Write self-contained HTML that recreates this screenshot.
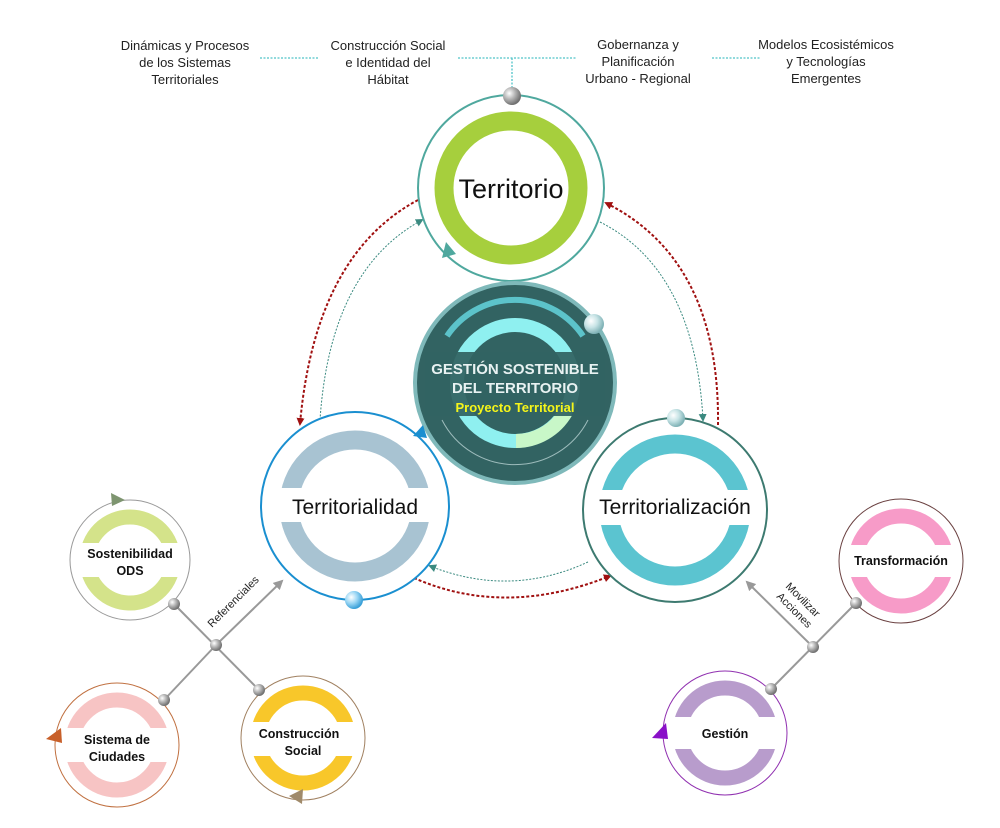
<!DOCTYPE html>
<html><head><meta charset="utf-8"><style>
html,body{margin:0;padding:0;background:#fff;}
svg{display:block;font-family:"Liberation Sans",sans-serif;}
</style></head><body>
<svg width="1000" height="828" viewBox="0 0 1000 828" xmlns="http://www.w3.org/2000/svg">
<defs>
<radialGradient id="ball" cx="35%" cy="35%" r="65%"><stop offset="0" stop-color="#fff"/><stop offset="0.5" stop-color="#b5b5b5"/><stop offset="1" stop-color="#707070"/></radialGradient>
<radialGradient id="ballb" cx="35%" cy="35%" r="65%"><stop offset="0" stop-color="#fff"/><stop offset="0.5" stop-color="#9ed8f5"/><stop offset="1" stop-color="#3aa0d8"/></radialGradient>
<radialGradient id="ballt" cx="35%" cy="35%" r="65%"><stop offset="0" stop-color="#fff"/><stop offset="0.5" stop-color="#c8e4e6"/><stop offset="1" stop-color="#7fb2b6"/></radialGradient>
<marker id="ar" markerWidth="8" markerHeight="8" refX="6" refY="4" orient="auto" markerUnits="userSpaceOnUse"><path d="M0,0 L8,4 L0,8Z" fill="#a01010"/></marker>
<marker id="at" markerWidth="8" markerHeight="8" refX="6" refY="4" orient="auto" markerUnits="userSpaceOnUse"><path d="M0,0 L8,4 L0,8Z" fill="#3b8a80"/></marker>
<marker id="ag" markerWidth="10" markerHeight="10" refX="8" refY="5" orient="auto" markerUnits="userSpaceOnUse"><path d="M0,0 L10,5 L0,10Z" fill="#999"/></marker>
</defs>

<g font-size="13" fill="#222" text-anchor="middle">
<text x="185" y="50">Dinámicas y Procesos</text><text x="185" y="67">de los Sistemas</text><text x="185" y="84">Territoriales</text>
<text x="388" y="50">Construcción Social</text><text x="388" y="67">e Identidad del</text><text x="388" y="84">Hábitat</text>
<text x="638" y="49">Gobernanza y</text><text x="638" y="66">Planificación</text><text x="638" y="83">Urbano - Regional</text>
<text x="826" y="49">Modelos Ecosistémicos</text><text x="826" y="66">y Tecnologías</text><text x="826" y="83">Emergentes</text>
</g>
<g stroke="#4fc3c8" stroke-width="1.3" stroke-dasharray="2,1.5" fill="none">
<line x1="260" y1="58" x2="318" y2="58"/>
<line x1="458" y1="58" x2="576" y2="58"/>
<line x1="712" y1="58" x2="760" y2="58"/>
<line x1="512" y1="58" x2="512" y2="90"/>
</g>

<g fill="none">
<path d="M418,200 Q315,255 300,424" stroke="#a01010" stroke-width="2" stroke-dasharray="3,2" marker-end="url(#ar)"/>
<path d="M320,420 Q330,270 422,220" stroke="#3b8a80" stroke-width="1" stroke-dasharray="2,1.5" marker-end="url(#at)"/>
<path d="M718,425 Q720,260 606,203" stroke="#a01010" stroke-width="2" stroke-dasharray="3,2" marker-end="url(#ar)"/>
<path d="M600,222 Q695,270 703,420" stroke="#3b8a80" stroke-width="1" stroke-dasharray="2,1.5" marker-end="url(#at)"/>
<path d="M414,578 Q505,618 610,576" stroke="#a01010" stroke-width="2" stroke-dasharray="3,2" marker-end="url(#ar)"/>
<path d="M588,562 Q510,598 430,566" stroke="#3b8a80" stroke-width="1" stroke-dasharray="2,1.5" marker-end="url(#at)"/>
</g>

<circle cx="511" cy="188" r="93" fill="#fff" stroke="#4fa89e" stroke-width="2"/>
<circle cx="511" cy="188" r="67" fill="none" stroke="#a6cf3d" stroke-width="19"/>
<path d="M442,258 l4,-16 l10,12z" fill="#4fa89e"/>
<text x="511" y="198" font-size="27" text-anchor="middle" fill="#111">Territorio</text>
<circle cx="512" cy="96" r="9" fill="url(#ball)"/>

<circle cx="515" cy="383" r="100" fill="#326362" stroke="#7fb9ba" stroke-width="4"/>
<path d="M447,336 A82,82 0 0 1 583,336" fill="none" stroke="#5cc3ca" stroke-width="6"/>
<path d="M442,420 A82,82 0 0 0 588,420" fill="none" stroke="#9dbcbc" stroke-width="1"/>
<circle cx="515" cy="383" r="58" fill="none" stroke="#8ff0f0" stroke-width="14"/>
<path d="M516,441 A58,58 0 0 0 566,412" fill="none" stroke="#c8f7c8" stroke-width="14"/>
<rect x="425" y="352" width="180" height="64" fill="#326362" opacity="0.93"/>
<text x="515" y="374" font-size="15" font-weight="bold" text-anchor="middle" fill="#e8f2f2">GESTIÓN SOSTENIBLE</text>
<text x="515" y="393" font-size="15" font-weight="bold" text-anchor="middle" fill="#e8f2f2">DEL TERRITORIO</text>
<text x="515" y="412" font-size="13" font-weight="bold" text-anchor="middle" fill="#f5f51a">Proyecto Territorial</text>
<circle cx="594" cy="324" r="10" fill="url(#ballt)"/>

<circle cx="355" cy="506" r="94" fill="#fff" stroke="#1a8fd0" stroke-width="2"/>
<circle cx="355" cy="506" r="66" fill="none" stroke="#a8c3d2" stroke-width="19"/>
<rect x="270" y="488" width="170" height="34" fill="#fff"/>
<text x="355" y="514" font-size="21" text-anchor="middle" fill="#111">Territorialidad</text>
<path d="M427,438 l-14,-2 l10,-11 z" fill="#1a8fd0"/>
<circle cx="354" cy="600" r="9" fill="url(#ballb)"/>

<circle cx="675" cy="510" r="92" fill="#fff" stroke="#3d7a70" stroke-width="2"/>
<circle cx="675" cy="510" r="66" fill="none" stroke="#5bc4d0" stroke-width="19"/>
<rect x="590" y="490" width="170" height="35" fill="#fff"/>
<text x="675" y="514" font-size="21" text-anchor="middle" fill="#111">Territorialización</text>
<circle cx="676" cy="418" r="9" fill="url(#ballt)"/>

<g stroke="#999" stroke-width="2" fill="none">
<line x1="174" y1="604" x2="259" y2="690"/>
<line x1="164" y1="700" x2="216" y2="645"/>
<line x1="216" y1="645" x2="282" y2="581" marker-end="url(#ag)"/>
</g>
<text x="0" y="0" font-size="11" fill="#222" transform="translate(212,628) rotate(-45)">Referenciales</text>

<circle cx="130" cy="560" r="60" fill="#fff" stroke="#999" stroke-width="1"/>
<circle cx="130" cy="560" r="43" fill="none" stroke="#d4e38a" stroke-width="15"/>
<rect x="75" y="543" width="110" height="34" fill="#fff"/>
<g font-size="12.5" font-weight="bold" text-anchor="middle" fill="#111">
<text x="130" y="558">Sostenibilidad</text>
<text x="130" y="575">ODS</text>
</g>
<path d="M111,493 l14,7 l-13,6z" fill="#7e9570"/>

<circle cx="117" cy="745" r="62" fill="#fff" stroke="#c07040" stroke-width="1"/>
<circle cx="117" cy="745" r="45" fill="none" stroke="#f7c4c4" stroke-width="15"/>
<rect x="62" y="728" width="110" height="34" fill="#fff"/>
<g font-size="12.5" font-weight="bold" text-anchor="middle" fill="#111">
<text x="117" y="744">Sistema de</text>
<text x="117" y="761">Ciudades</text>
</g>
<path d="M46,739 l15,-11 l1,15z" fill="#c8602a"/>

<circle cx="303" cy="738" r="62" fill="#fff" stroke="#a08060" stroke-width="1"/>
<circle cx="303" cy="738" r="45" fill="none" stroke="#f8c72a" stroke-width="15"/>
<rect x="248" y="722" width="110" height="34" fill="#fff"/>
<g font-size="12.5" font-weight="bold" text-anchor="middle" fill="#111">
<text x="299" y="738">Construcción</text>
<text x="303" y="755">Social</text>
</g>
<path d="M289,796 l14,-7 l-1,15z" fill="#a08a6a"/>

<circle cx="174" cy="604" r="6" fill="url(#ball)"/>
<circle cx="216" cy="645" r="6" fill="url(#ball)"/>
<circle cx="259" cy="690" r="6" fill="url(#ball)"/>
<circle cx="164" cy="700" r="6" fill="url(#ball)"/>

<g stroke="#999" stroke-width="2" fill="none">
<line x1="856" y1="603" x2="771" y2="689"/>
<line x1="813" y1="647" x2="747" y2="582" marker-end="url(#ag)"/>
</g>
<text font-size="11" fill="#222" transform="translate(785,587) rotate(45)">Movilizar</text>
<text font-size="11" fill="#222" transform="translate(776,597) rotate(45)">Acciones</text>

<circle cx="901" cy="561" r="62" fill="#fff" stroke="#6a4040" stroke-width="1"/>
<circle cx="901" cy="561" r="45" fill="none" stroke="#f79bc8" stroke-width="15"/>
<rect x="845" y="545" width="112" height="32" fill="#fff"/>
<text x="901" y="565" font-size="12.5" font-weight="bold" text-anchor="middle" fill="#111">Transformación</text>

<circle cx="725" cy="733" r="62" fill="#fff" stroke="#9030b0" stroke-width="1"/>
<circle cx="725" cy="733" r="45" fill="none" stroke="#b89ccc" stroke-width="15"/>
<rect x="670" y="717" width="110" height="32" fill="#fff"/>
<text x="725" y="738" font-size="12.5" font-weight="bold" text-anchor="middle" fill="#111">Gestión</text>
<path d="M652,738 l14,-15 l2,16z" fill="#8a10c8"/>

<circle cx="856" cy="603" r="6" fill="url(#ball)"/>
<circle cx="813" cy="647" r="6" fill="url(#ball)"/>
<circle cx="771" cy="689" r="6" fill="url(#ball)"/>
</svg>
</body></html>
